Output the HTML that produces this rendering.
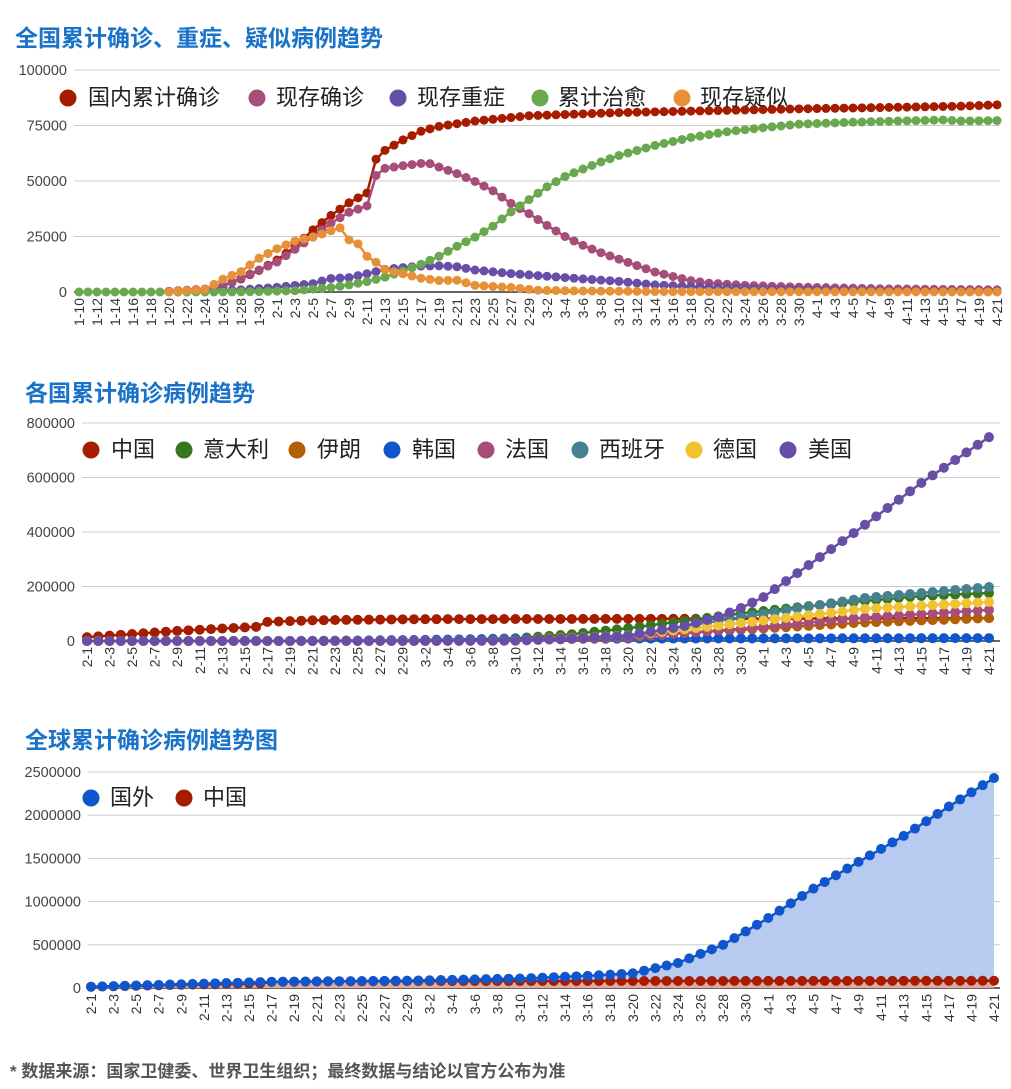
<!DOCTYPE html>
<html><head><meta charset="utf-8"><style>
body{margin:0;background:#fff;width:1011px;height:1089px;overflow:hidden;font-family:"Liberation Sans","Noto Sans CJK SC",sans-serif}
svg{position:absolute;left:0;top:0}
</style></head><body>
<svg id="s" width="1011" height="1089" xmlns="http://www.w3.org/2000/svg" font-family="Liberation Sans, Noto Sans CJK SC, sans-serif">
<text x="15" y="46" font-size="23" font-weight="bold" fill="#1a73c8">全国累计确诊、重症、疑似病例趋势</text>
<text x="25" y="401" font-size="23" font-weight="bold" fill="#1a73c8">各国累计确诊病例趋势</text>
<text x="25" y="748" font-size="23" font-weight="bold" fill="#1a73c8">全球累计确诊病例趋势图</text>
<text x="10" y="1077" font-size="17" font-weight="bold" fill="#555">* 数据来源：国家卫健委、世界卫生组织；最终数据与结论以官方公布为准</text>
</svg>
<script>
var S=document.getElementById('s'),NS='http://www.w3.org/2000/svg';
function el(t,a,txt){var e=document.createElementNS(NS,t);for(var k in a)e.setAttribute(k,a[k]);if(txt!=null)e.textContent=txt;S.appendChild(e);return e;}
function interp(keys,n){var a=[];for(var i=0;i<n;i++){var v=null;for(var j=0;j<keys.length-1;j++){if(i>=keys[j][0]&&i<=keys[j+1][0]){var t=(i-keys[j][0])/(keys[j+1][0]-keys[j][0]||1);v=keys[j][1]+t*(keys[j+1][1]-keys[j][1]);break;}}if(i>keys[keys.length-1][0])v=keys[keys.length-1][1];if(i<keys[0][0])v=null;a.push(v);}return a;}
function dates(start,n){var md=[31,29,31,30],m=start[0],d=start[1],r=[];for(var i=0;i<n;i++){r.push(m+'-'+d);d++;if(d>md[m-1]){d=1;m++;}}return r;}
function chart(o){
 var n=o.n,x0=o.x0,x1=o.x1,yt=o.yt,yb=o.yb,step=(x1-x0)/(n-1);
 for(var k=0;k<o.ticks.length;k++){var y=yb-(yb-yt)*k/(o.ticks.length-1);
  el('line',{x1:o.gx,x2:1000,y1:y,y2:y,stroke:k==0?'#333':'#ccc','stroke-width':k==0?1.5:1});
  el('text',{x:o.lx,y:y+5,'font-size':14.5,fill:'#444','text-anchor':'end'},o.ticks[k]);}
 var ds=dates(o.start,n);
 for(var i=0;i<n;i+=2){var x=x0+i*step;el('text',{transform:'translate('+(x+5)+','+(yb+6)+') rotate(-90)','font-size':14,fill:'#333','text-anchor':'end'},ds[i]);}
 function Y(v){return yb-(yb-yt)*v/o.max;}
 o.pre&&o.pre(Y,step);
 o.series.forEach(function(s){var d=interp(s.k,n),p='';
  for(var i=0;i<n;i++)if(d[i]!=null)p+=(p?'L':'M')+(x0+i*step).toFixed(1)+' '+Y(d[i]).toFixed(1);
  el('path',{d:p,fill:'none',stroke:s.c,'stroke-width':2.5});
  for(var i=0;i<n;i++)if(d[i]!=null)el('circle',{cx:x0+i*step,cy:Y(d[i]),r:o.r,fill:s.c});});
 o.legend.forEach(function(l){el('circle',{cx:l[1],cy:o.ly-7,r:8.5,fill:l[3]});el('text',{x:l[2],y:o.ly,'font-size':22,fill:'#222'},l[0]);});
}
var r1={c:'#a61c00',k:[[10,300],[14,1300],[16,2800],[18,5900],[20,9700],[22,14400],[24,20400],[26,28000],[28,34500],[30,40200],[32,44600],[33,59800],[34,63800],[36,68500],[38,72400],[40,74600],[44,77000],[50,79400],[60,80800],[80,82500],[98,83700],[102,84300]]};
var p1={c:'#a64d79',k:[[10,250],[14,1200],[16,2700],[22,13500],[26,25000],[28,31000],[30,35900],[32,38800],[33,52500],[34,55700],[36,56900],[38,57900],[39,57800],[40,56300],[42,53300],[44,49800],[46,45600],[48,39900],[50,35300],[52,30000],[54,25000],[56,21000],[58,17700],[60,14800],[62,11900],[64,9000],[66,7000],[68,5100],[70,4000],[74,3000],[80,2200],[90,1400],[102,1000]]};
var v1={c:'#674ea7',k:[[10,0],[14,200],[18,1000],[22,2100],[26,3800],[28,6100],[30,6500],[32,8200],[34,10200],[36,11000],[38,11700],[40,11800],[42,11400],[44,9900],[48,8300],[52,7100],[56,5900],[60,4800],[64,3200],[70,2000],[80,900],[91,300],[102,100]]};
var g1={c:'#6aa84f',k:[[0,0],[16,0],[20,200],[24,600],[28,2000],[30,3200],[32,4700],[34,6700],[36,9400],[38,12500],[40,16100],[42,20600],[44,24700],[46,29700],[48,36100],[50,41600],[52,47400],[54,52000],[56,55400],[58,58600],[60,61500],[64,66000],[68,69600],[72,72200],[76,74000],[80,75600],[86,76500],[96,77500],[98,77000],[102,77200]]};
var o1={c:'#e69138',k:[[10,54],[14,1100],[16,5800],[18,9200],[20,15200],[22,19500],[24,23000],[26,24700],[28,27600],[29,28900],[30,23500],[31,21700],[32,16100],[33,13400],[34,10100],[36,8200],[38,6200],[40,5200],[42,5300],[44,3000],[48,2000],[51,800],[55,500],[65,200],[102,20]]};
chart({n:103,x0:79,x1:997,yt:70,yb:292,max:100000,gx:74,lx:67,ticks:['0','25000','50000','75000','100000'],start:[1,10],r:4.5,series:[r1,p1,v1,g1,o1],ly:105,
 legend:[['国内累计确诊',68,88,'#a61c00'],['现存确诊',257,276,'#a64d79'],['现存重症',398,417,'#674ea7'],['累计治愈',540,558,'#6aa84f'],['现存疑似',682,700,'#e69138']]});
var C=[[0,14000],[8,37000],[14,50000],[15,52000],[16,70000],[20,76000],[29,80000],[60,82000],[80,84000]];
chart({n:81,x0:87,x1:989,yt:423,yb:641,max:800000,gx:82,lx:75,ticks:['0','200000','400000','600000','800000'],start:[2,1],r:5,ly:457,
 series:[{c:'#a61c00',k:C},
 {c:'#38761d',k:[[0,2],[20,3],[29,1700],[38,10000],[43,25000],[48,47000],[53,74000],[58,101000],[64,128000],[69,147000],[74,165000],[80,176000]]},
 {c:'#b45f06',k:[[0,0],[18,0],[29,1000],[38,8000],[48,19600],[58,41000],[69,68000],[80,84000]]},
 {c:'#1155cc',k:[[0,12],[18,100],[29,3700],[38,7500],[48,8700],[80,10700]]},
 {c:'#a64d79',k:[[0,6],[29,100],[38,1800],[48,12600],[58,45000],[69,86000],[80,114000]]},
 {c:'#45818e',k:[[0,1],[29,80],[38,1700],[48,21000],[58,87000],[69,158000],[80,198000]]},
 {c:'#f1c232',k:[[0,8],[29,130],[38,1500],[48,19800],[58,66000],[69,118000],[80,143000]]},
 {c:'#674ea7',k:[[0,6],[29,70],[38,1000],[48,19000],[53,55000],[56,88000],[58,121000],[60,161000],[68,396000],[74,580000],[80,748000]]}],
 legend:[['中国',91,111,'#a61c00'],['意大利',184,203,'#38761d'],['伊朗',297,317,'#b45f06'],['韩国',392,412,'#1155cc'],['法国',486,505,'#a64d79'],['西班牙',580,599,'#45818e'],['德国',694,713,'#f1c232'],['美国',788,808,'#674ea7']]});
var T=[[0,15000],[16,72000],[28,85000],[38,110000],[44,140000],[48,170000],[52,290000],[56,500000],[60,810000],[64,1150000],[68,1460000],[72,1760000],[76,2100000],[80,2430000]];
chart({n:81,x0:91,x1:994,yt:772,yb:988,max:2500000,gx:88,lx:81,ticks:['0','500000','1000000','1500000','2000000','2500000'],start:[2,1],r:5,ly:805,
 pre:function(Y,step){
  var t=interp(T,81),c=interp(C,81),p='M91 988',q='M91 988';
  for(var i=0;i<81;i++){p+='L'+(91+i*step).toFixed(1)+' '+Y(t[i]).toFixed(1);q+='L'+(91+i*step).toFixed(1)+' '+Y(c[i]).toFixed(1);}
  p+='L994 988Z';q+='L994 988Z';
  el('path',{d:p,fill:'#b7cbf1'});el('path',{d:q,fill:'#e2aba0'});},
 series:[{c:'#a61c00',k:C},{c:'#1155cc',k:T}],
 legend:[['国外',91,110,'#1155cc'],['中国',184,203,'#a61c00']]});
</script>
</body></html>
